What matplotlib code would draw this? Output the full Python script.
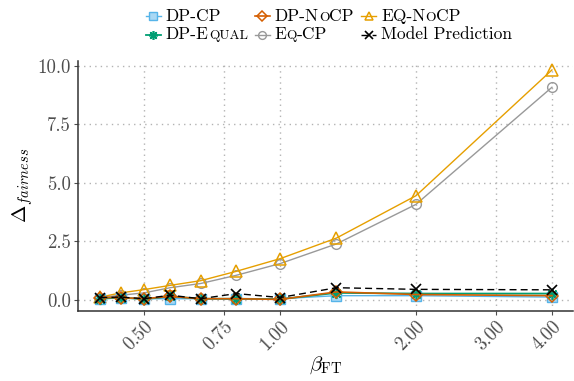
import numpy as np
import matplotlib
matplotlib.use("Agg")
import matplotlib.pyplot as plt
from matplotlib.lines import Line2D
from matplotlib.offsetbox import (AnchoredOffsetbox, DrawingArea, HPacker,
                                  TextArea, VPacker)

plt.rcParams['font.family'] = 'serif'
plt.rcParams['font.serif'] = ['cmr10']
plt.rcParams['mathtext.fontset'] = 'cm'
plt.rcParams['axes.formatter.use_mathtext'] = True

# beta_FT values
beta = [0.4, 0.444, 0.5, 0.571, 0.667, 0.8, 1.0, 1.333, 2.0, 4.0]

dp_cp = [0.05, 0.08, 0.05, 0.05, 0.05, 0.02, 0.05, 0.18, 0.18, 0.12]
dp_nocp = [0.1, 0.1, 0.05, 0.15, 0.05, 0.05, 0.02, 0.34, 0.23, 0.18]
eq_nocp = [0.12, 0.3, 0.44, 0.62, 0.82, 1.22, 1.76, 2.64, 4.45, 9.82]
dp_equal = [0.05, 0.1, 0.03, 0.15, 0.05, 0.05, 0.03, 0.3, 0.27, 0.27]
eq_cp = [0.1, 0.2, 0.3, 0.52, 0.7, 1.05, 1.55, 2.39, 4.08, 9.08]
model = [0.1, 0.12, 0.05, 0.2, 0.05, 0.27, 0.1, 0.52, 0.45, 0.43]

xticks = [0.5, 0.75, 1.0, 2.0, 3.0, 4.0]
yticks = [0.0, 2.5, 5.0, 7.5, 10.0]

asterisk = (8, 2, 0)
styles = {
    'eq_cp': dict(color='#999999', marker='o', mfc='none', ms=7, lw=1.0, mew=1.0),
    'eq_nocp': dict(color='#E69F00', marker='^', mfc='none', ms=8, lw=1.0, mew=1.1),
    'dp_cp': dict(color='#56B4E9', marker='s', mfc='#a9d8f4', ms=7, lw=1.0, mew=1.0),
    'dp_equal': dict(color='#009E73', marker=asterisk, ms=8, lw=1.3, mew=1.2),
    'dp_nocp': dict(color='#D55E00', marker='D', mfc='none', ms=6.5, lw=1.2, mew=1.1),
    'model': dict(color='black', marker='x', ms=7, lw=1.0, mew=1.2, ls=(0, (5, 3))),
}

fig = plt.figure(figsize=(5.74, 3.81), dpi=100)
ax = fig.add_axes([0.136, 0.184, 0.862, 0.657])

ax.plot(beta, eq_cp, **styles['eq_cp'])
ax.plot(beta, eq_nocp, **styles['eq_nocp'])
ax.plot(beta, dp_cp, **styles['dp_cp'])
ax.plot(beta, dp_equal, **styles['dp_equal'])
ax.plot(beta, dp_nocp, **styles['dp_nocp'])
ax.plot(beta, model, **styles['model'])

ax.set_xscale('log')
ax.set_xlim(0.357, 4.45)
ax.set_ylim(-0.47, 10.22)
ax.set_xticks(xticks)
ax.set_xticklabels([f'{t:.2f}' for t in xticks], rotation=45, ha='right',
                   rotation_mode='anchor')
ax.xaxis.set_minor_locator(matplotlib.ticker.NullLocator())
ax.set_yticks(yticks)
ax.set_yticklabels([f'{t:.1f}' for t in yticks])
ax.tick_params(labelsize=13.5, colors='#4d4d4d', length=3, width=0.8, pad=2)
ax.grid(True, ls=(0, (1, 3)), color='#b3b3b3', lw=1.0)
ax.set_axisbelow(True)
for s in ['top', 'right']:
    ax.spines[s].set_visible(False)
for s in ['left', 'bottom']:
    ax.spines[s].set_color('#333333')
    ax.spines[s].set_linewidth(1.1)

ax.set_ylabel(r'$\Delta_{fairness}$', fontsize=15, labelpad=2)
ax.set_xlabel(r'$\beta_{\mathrm{FT}}$', fontsize=15, labelpad=0)


# legend with small caps pieces
def entry(style, pieces):
    da = DrawingArea(11, 9, 0, 0)
    st = dict(style)
    st['ms'] = st['ms'] * 0.8
    da.add_artist(Line2D([0, 11], [4.5, 4.5], color=st['color'], lw=st['lw'],
                         ls=st.get('ls', '-')))
    da.add_artist(Line2D([5.5], [4.5], ls='none', marker=st['marker'], ms=st['ms'],
                         mfc=st.get('mfc', st['color']), mec=st['color'],
                         mew=st.get('mew', 1.0)))
    texts = []
    for txt, small in pieces:
        texts.append(TextArea(txt, textprops=dict(fontsize=9.7 if small else 12.5,
                                                  color='black')))
    label = HPacker(children=texts, align='baseline', pad=0, sep=0)
    return HPacker(children=[da, label], align='center', pad=0, sep=3.5)


col1 = VPacker(children=[entry(styles['dp_cp'], [('DP-CP', False)]),
                         entry(styles['dp_equal'], [('DP-E', False), ('QUAL', True)])],
               align='left', pad=0, sep=2)
col2 = VPacker(children=[entry(styles['dp_nocp'], [('DP-N', False), ('O', True), ('CP', False)]),
                         entry(styles['eq_cp'], [('E', False), ('Q', True), ('-CP', False)])],
               align='left', pad=0, sep=2)
col3 = VPacker(children=[entry(styles['eq_nocp'], [('EQ-N', False), ('O', True), ('CP', False)]),
                         entry(styles['model'], [('Model Prediction', False)])],
               align='left', pad=0, sep=2)
legbox = HPacker(children=[col1, col2, col3], align='top', pad=0, sep=5)
anch = AnchoredOffsetbox(loc='upper center', child=legbox, pad=0, frameon=False,
                         bbox_to_anchor=(0.573, 0.977), bbox_transform=fig.transFigure,
                         borderpad=0)
fig.add_artist(anch)

fig.savefig('out.png', dpi=100)
